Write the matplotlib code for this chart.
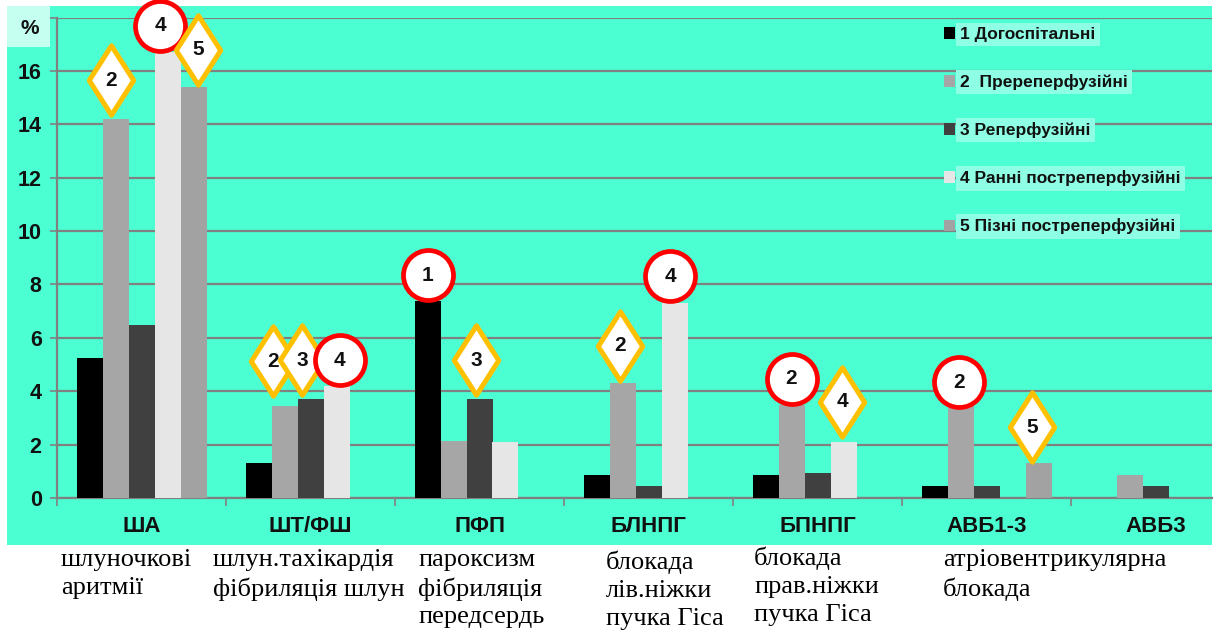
import matplotlib
matplotlib.use('Agg')
import matplotlib.pyplot as plt
import numpy as np
from matplotlib.path import Path
from matplotlib.patches import Rectangle

# ---------------- data ----------------
categories = ['ША', 'ШТ/ФШ', 'ПФП', 'БЛНПГ', 'БПНПГ', 'АВБ1-3', 'АВБ3']
series_labels = ['1 Догоспітальні', '2  Пререперфузійні', '3 Реперфузійні',
                 '4 Ранні постреперфузійні', '5 Пізні постреперфузійні']
s1 = [5.25, 1.3, 7.4, 0.85, 0.85, 0.45, 0.0]
s2 = [14.2, 3.45, 2.15, 4.3, 3.5, 3.5, 0.85]
s3 = [6.5, 3.7, 3.7, 0.45, 0.95, 0.45, 0.45]
s4 = [16.7, 4.2, 2.1, 7.3, 2.1, 0.0, 0.0]
s5 = [15.4, 0.0, 0.0, 0.0, 0.0, 1.3, 0.0]
series = [s1, s2, s3, s4, s5]
yticks = [0, 2, 4, 6, 8, 10, 12, 14, 16, 18]

descriptions = ['шлуночкові\nаритмії', 'шлун.тахікардія\nфібриляція шлун',
                'пароксизм\nфібриляція\nпередсердь', 'блокада\nлів.ніжки\nпучка Гіса',
                'блокада\nправ.ніжки\nпучка Гіса', 'атріовентрикулярна\nблокада']

# significance markers: category, series, shape, label height
mark_cat = [0, 0, 0, 1, 1, 1, 2, 2, 3, 3, 4, 4, 5, 5]
mark_ser = [1, 3, 4, 1, 2, 3, 0, 2, 1, 3, 1, 3, 1, 4]
mark_shape = ['d', 'c', 'd', 'd', 'd', 'c', 'c', 'd', 'd', 'c', 'c', 'd', 'c', 'd']
mark_y = [15.65, 17.7, 16.8, 5.13, 5.17, 5.17, 8.35, 5.17, 5.7, 8.3, 4.46, 3.6, 4.34, 2.66]
mark_dx = [-0.17, -0.29, 0.17, -0.44, -0.33, 0.13, 0.0, -0.13, -0.1, -0.17, 0.0, -0.06, -0.06, -0.25]

# ---------------- style ----------------
PANEL = '#4BFFD2'
colors = ['#000000', '#A6A6A6', '#404040', '#E6E6E6', '#A2A2A2']
GRID = '#808080'
SANS = 'Liberation Sans'
SERIF = 'Liberation Serif'

W, H = 1219, 637
fig = plt.figure(figsize=(W / 100, H / 100), dpi=100)
fig.patch.set_facecolor('white')


def frac(x0, y0, x1, y1):
    return [x0 / W, 1 - y1 / H, (x1 - x0) / W, (y1 - y0) / H]


bg = fig.add_axes(frac(7, 6, 1212, 545))
bg.set_facecolor(PANEL)
bg.set_xticks([])
bg.set_yticks([])
for sp in bg.spines.values():
    sp.set_visible(False)

ax = fig.add_axes(frac(57, 17.6, 1212, 498))
ax.patch.set_alpha(0)

bw = 26 / 169
x = np.arange(len(categories))
bars = []
for i, vals in enumerate(series):
    b = ax.bar(x + (i - 2) * bw, vals, width=bw, color=colors[i], zorder=3,
               label=series_labels[i])
    bars.append(b)

ax.set_yticks(yticks)
ax.set_yticklabels([str(t) for t in yticks])
ax.yaxis.grid(True, color=GRID, lw=1.6, zorder=0)
ax.set_axisbelow(True)
for side in ['top', 'right']:
    ax.spines[side].set_visible(False)
for side in ['left', 'bottom']:
    ax.spines[side].set_color(GRID)
    ax.spines[side].set_linewidth(1.6)
ax.tick_params(axis='y', length=5, color=GRID, width=1.2, labelsize=15.5, pad=6)
for t in ax.get_yticklabels():
    t.set_fontweight('bold')
    t.set_fontfamily(SANS)
    t.set_color('#111111')
ax.get_yticklabels()[-1].set_visible(False)

ax.set_xticks(x)
ax.set_xticklabels(categories)
ax.set_xticks(np.arange(-0.5, 6.4, 1), minor=True)
ax.tick_params(axis='x', which='major', length=0, labelsize=16, pad=13)
ax.tick_params(axis='x', which='minor', length=6, color=GRID, width=1.2)
for t in ax.get_xticklabels():
    t.set_fontweight('bold')
    t.set_fontfamily(SANS)
    t.set_color('#111111')

ax.set_ylim(0, 18)
ax.set_xlim(-0.5, -0.5 + (1212 - 57) / 169)

# markers
diamond = Path([(0, 1), (0.64, 0), (0, -1), (-0.64, 0), (0, 1)],
               [Path.MOVETO, Path.LINETO, Path.LINETO, Path.LINETO, Path.CLOSEPOLY])
for c, s, shp, yv, dx in zip(mark_cat, mark_ser, mark_shape, mark_y, mark_dx):
    xm = c + (s - 2 + dx) * bw
    if shp == 'd':
        ln, = ax.plot([xm], [yv], marker=diamond, ms=50, mfc='white', mec='#FFC000',
                      mew=3.6, ls='none', zorder=5, clip_on=False)
    else:
        ln, = ax.plot([xm], [yv], marker='o', ms=36, mfc='white', mec='#FF0000',
                      mew=3.4, ls='none', zorder=5, clip_on=False)
    ln.set_clip_path(bg.patch)
    tx = ax.text(xm, yv, str(s + 1), ha='center', va='center', fontsize=15,
                 fontweight='bold', family=SANS, color='#111111', zorder=6, clip_on=False)
    tx.set_clip_path(bg.patch)

# legend
leg = ax.legend(handles=[b[0] for b in bars], labels=series_labels, loc='upper left',
                bbox_to_anchor=(944 / W, 1 - 27 / H), bbox_transform=fig.transFigure,
                frameon=False, prop={'family': SANS, 'weight': 'bold', 'size': 12.5},
                handlelength=0.65, handleheight=0.65, handletextpad=0.3,
                labelspacing=1.85, borderpad=0, borderaxespad=0)
for t in leg.get_texts():
    t.set_bbox(dict(facecolor='#8EFFE4', edgecolor='none', pad=3))
    t.set_color('#111111')

# % label
fig.patches.append(Rectangle((7 / W, 1 - 47 / H), 43 / W, 41 / H, transform=fig.transFigure,
                             facecolor='#C4FFF0', edgecolor='none', zorder=2))
fig.text(30 / W, 1 - 28 / H, '%', ha='center', va='center', fontsize=15, fontweight='bold',
         family=SANS, color='#111111', zorder=3)

# descriptions under chart
desc_x = [61, 213, 418, 606, 754, 943]
desc_top = [549, 549, 549, 551, 547, 549]
for d, xx, yy in zip(descriptions, desc_x, desc_top):
    fig.text(xx / W, 1 - yy / H, d, ha='left', va='top', family=SERIF, fontsize=19,
             linespacing=1.33, color='black')

fig.savefig('out.png', dpi=100, facecolor='white')
